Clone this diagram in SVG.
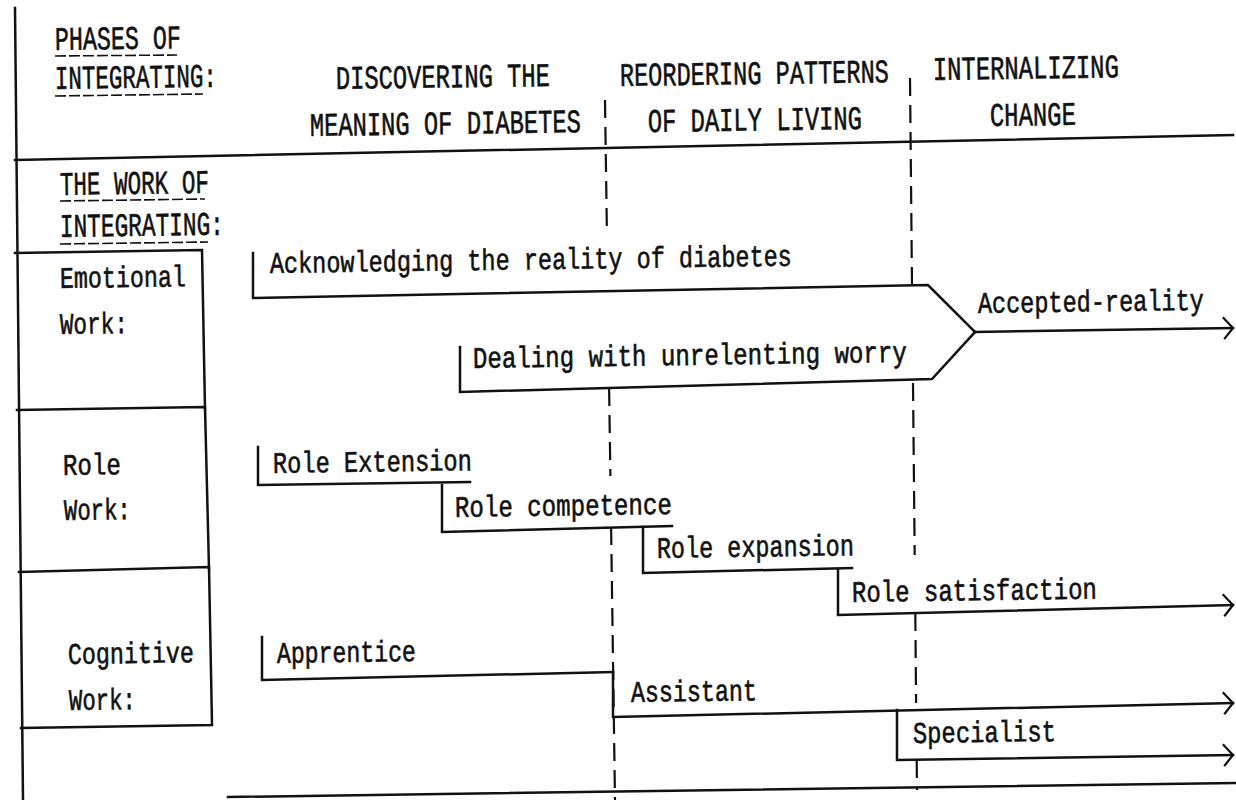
<svg xmlns="http://www.w3.org/2000/svg" width="1236" height="800" viewBox="0 0 1236 800">
<style>
.t{font-family:"Liberation Mono","DejaVu Sans Mono",monospace;font-size:30px;fill:#111;stroke:#111;stroke-width:0.6}
.h{font-size:33px}
.ln{stroke:#111;stroke-width:2.5;fill:none;stroke-linejoin:miter;stroke-linecap:square}
.dash{stroke:#111;stroke-width:2.2;fill:none;stroke-dasharray:18 9}
.ul{stroke:#111;stroke-width:1.6;fill:none;stroke-dasharray:11 3}
</style>
<defs>
<marker id="chev" viewBox="0 0 14 24" refX="12" refY="12" markerWidth="14" markerHeight="24" markerUnits="userSpaceOnUse" orient="auto">
<path d="M2,1 L12,12 L3,23" fill="none" stroke="#111" stroke-width="2.2"/>
</marker>
</defs>
<rect width="1236" height="800" fill="#fff"/>
<g id="frame">
<line class="ln" x1="15" y1="8" x2="23" y2="800"/>
<line class="ln" x1="15" y1="160" x2="1233" y2="135"/>
<line class="ln" x1="228" y1="797" x2="1236" y2="783"/>
<line class="dash" x1="605" y1="100" x2="606.9" y2="232"/>
<line class="dash" x1="609.1" y1="388" x2="610.4" y2="476"/>
<line class="dash" x1="611.1" y1="527" x2="615" y2="800"/>
<line class="dash" x1="910" y1="78" x2="912" y2="285"/>
<line class="dash" x1="913" y1="383" x2="914.7" y2="555"/>
<line class="dash" x1="915.3" y1="613" x2="916.1" y2="703"/>
<line class="dash" x1="916.7" y1="760" x2="917" y2="790"/>
</g>
<g id="phase-label">
<text class="t h" x="55" y="50" textLength="126" lengthAdjust="spacingAndGlyphs" transform="rotate(-0.8 55 50)">PHASES OF</text>
<text class="t h" x="55" y="89" textLength="162" lengthAdjust="spacingAndGlyphs" transform="rotate(-0.8 55 89)">INTEGRATING:</text>
<line class="ul" x1="55" y1="56" x2="177" y2="55"/>
<line class="ul" x1="55" y1="96" x2="203" y2="94"/>
</g>
<g id="phase-discovering">
<text class="t h" x="336" y="89" textLength="214" lengthAdjust="spacingAndGlyphs" transform="rotate(-0.8 336 89)">DISCOVERING THE</text>
<text class="t h" x="310" y="136" textLength="271" lengthAdjust="spacingAndGlyphs" transform="rotate(-0.8 310 136)">MEANING OF DIABETES</text>
</g>
<g id="phase-reordering">
<text class="t h" x="620" y="86" textLength="269" lengthAdjust="spacingAndGlyphs" transform="rotate(-0.8 620 86)">REORDERING PATTERNS</text>
<text class="t h" x="648" y="132" textLength="214" lengthAdjust="spacingAndGlyphs" transform="rotate(-0.8 648 132)">OF DAILY LIVING</text>
</g>
<g id="phase-internalizing">
<text class="t h" x="933" y="80" textLength="186" lengthAdjust="spacingAndGlyphs" transform="rotate(-0.8 933 80)">INTERNALIZING</text>
<text class="t h" x="990" y="126" textLength="86" lengthAdjust="spacingAndGlyphs" transform="rotate(-0.8 990 126)">CHANGE</text>
</g>
<g id="work-label">
<text class="t h" x="60" y="195" textLength="149" lengthAdjust="spacingAndGlyphs" transform="rotate(-0.8 60 195)">THE WORK OF</text>
<text class="t h" x="60" y="237" textLength="164" lengthAdjust="spacingAndGlyphs" transform="rotate(-0.8 60 237)">INTEGRATING:</text>
<line class="ul" x1="60" y1="201" x2="205" y2="199"/>
<line class="ul" x1="60" y1="244" x2="208" y2="242"/>
</g>
<g id="row-emotional">
<polyline class="ln" points="15,253 202,250 205,409"/>
<text class="t" x="60" y="288" textLength="126" lengthAdjust="spacingAndGlyphs" transform="rotate(-0.8 60 288)">Emotional</text>
<text class="t" x="60" y="334" textLength="68" lengthAdjust="spacingAndGlyphs" transform="rotate(-0.8 60 334)">Work:</text>
</g>
<g id="row-role">
<polyline class="ln" points="17,410 205,407 209,569"/>
<text class="t" x="63" y="475" textLength="58" lengthAdjust="spacingAndGlyphs" transform="rotate(-0.8 63 475)">Role</text>
<text class="t" x="64" y="520" textLength="67" lengthAdjust="spacingAndGlyphs" transform="rotate(-0.8 64 520)">Work:</text>
</g>
<g id="row-cognitive">
<polyline class="ln" points="19,572 209,567 212,725 21,728"/>
<text class="t" x="68" y="664" textLength="126" lengthAdjust="spacingAndGlyphs" transform="rotate(-0.8 68 664)">Cognitive</text>
<text class="t" x="69" y="710" textLength="67" lengthAdjust="spacingAndGlyphs" transform="rotate(-0.8 69 710)">Work:</text>
</g>
<g id="connectors">
<polyline class="ln" points="253,253 253,298 928,285 975,332" />
<polyline class="ln" points="460,347 460,392 932,379 975,332" />
<line class="ln" x1="975" y1="332" x2="1233" y2="328" marker-end="url(#chev)"/>
<polyline class="ln" points="258,447 258,485 470,482"/>
<polyline class="ln" points="442,485 442,532 672,526"/>
<polyline class="ln" points="643,527 643,573 852,568"/>
<polyline class="ln" points="838,570 838,615 1233,605" marker-end="url(#chev)"/>
<polyline class="ln" points="262,637 262,680 613,672"/>
<polyline class="ln" points="613,672 613,717 1233,703" marker-end="url(#chev)"/>
<polyline class="ln" points="897,710 897,760 1233,755" marker-end="url(#chev)"/>
</g>
<g id="acknowledging">
<text class="t" x="270" y="273" textLength="522" lengthAdjust="spacingAndGlyphs" transform="rotate(-0.8 270 273)">Acknowledging the reality of diabetes</text>
</g>
<g id="dealing">
<text class="t" x="473" y="368" textLength="434" lengthAdjust="spacingAndGlyphs" transform="rotate(-0.8 473 368)">Dealing with unrelenting worry</text>
</g>
<g id="accepted-reality">
<text class="t" x="978" y="313" textLength="226" lengthAdjust="spacingAndGlyphs" transform="rotate(-0.8 978 313)">Accepted-reality</text>
</g>
<g id="role-extension">
<text class="t" x="273" y="473" textLength="199" lengthAdjust="spacingAndGlyphs" transform="rotate(-0.8 273 473)">Role Extension</text>
</g>
<g id="role-competence">
<text class="t" x="455" y="517" textLength="217" lengthAdjust="spacingAndGlyphs" transform="rotate(-0.8 455 517)">Role competence</text>
</g>
<g id="role-expansion">
<text class="t" x="657" y="558" textLength="197" lengthAdjust="spacingAndGlyphs" transform="rotate(-0.8 657 558)">Role expansion</text>
</g>
<g id="role-satisfaction">
<text class="t" x="852" y="602" textLength="245" lengthAdjust="spacingAndGlyphs" transform="rotate(-0.8 852 602)">Role satisfaction</text>
</g>
<g id="apprentice">
<text class="t" x="277" y="663" textLength="139" lengthAdjust="spacingAndGlyphs" transform="rotate(-0.8 277 663)">Apprentice</text>
</g>
<g id="assistant">
<text class="t" x="631" y="702" textLength="126" lengthAdjust="spacingAndGlyphs" transform="rotate(-0.8 631 702)">Assistant</text>
</g>
<g id="specialist">
<text class="t" x="913" y="743" textLength="143" lengthAdjust="spacingAndGlyphs" transform="rotate(-0.8 913 743)">Specialist</text>
</g>
</svg>
